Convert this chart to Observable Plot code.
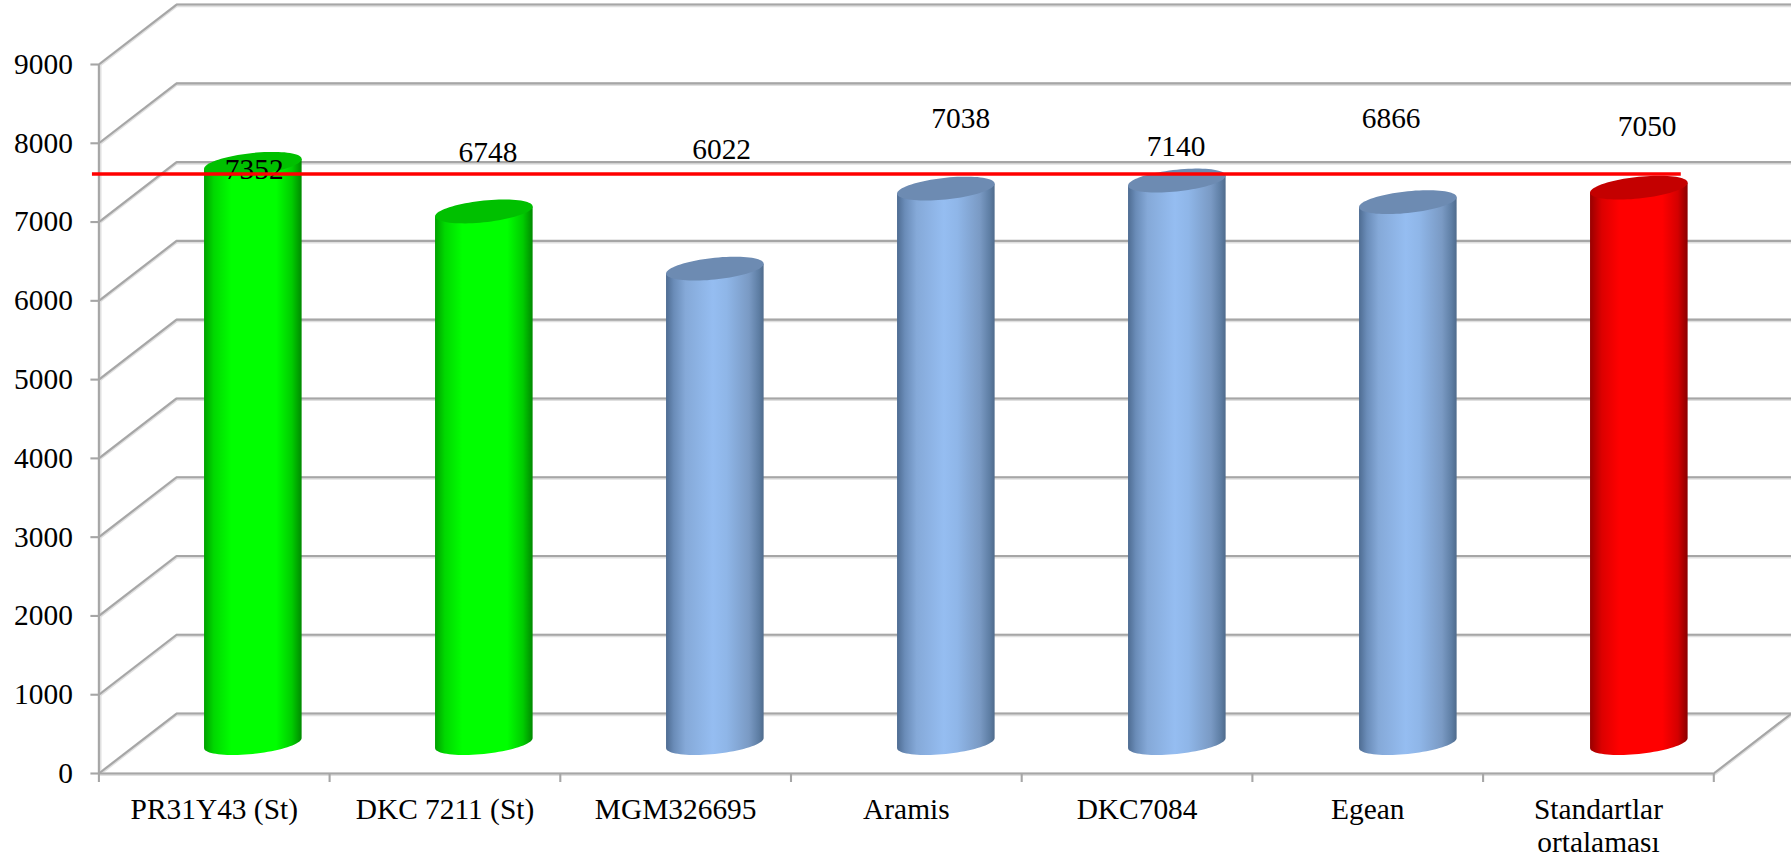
<!DOCTYPE html>
<html>
<head>
<meta charset="utf-8">
<style>html,body{margin:0;padding:0;background:#fff}svg{display:block}</style>
<script src="https://cdn.jsdelivr.net/npm/d3@7"></script>
<script src="https://cdn.jsdelivr.net/npm/@observablehq/plot@0.6"></script>
</head>
<body>
<div id="chart"></div>
<script>
// ---- data ----
const categories = ["PR31Y43 (St)", "DKC 7211 (St)", "MGM326695", "Aramis", "DKC7084", "Egean", "Standartlar\nortalaması"];
const values = [7352, 6748, 6022, 7038, 7140, 6866, 7050];
const kinds = ["standard", "standard", "entry", "entry", "entry", "entry", "mean"];
const yTicks = [0, 1000, 2000, 3000, 4000, 5000, 6000, 7000, 8000, 9000];
const referenceLevel = 7610;

// ---- layout ----
const font = "Liberation Serif";
const depthX = 0.3368, depthY = 761;     // pseudo-3D depth, in scale units
const halfWidth = 0.2115;                // cylinder half width, x units
const barStep = 1.0013;                  // cylinders are spaced a touch wider than the ticks
const tilt = 63, squash = 138;           // ellipse shear / half height, y units
const labelNudge = [[40,-25],[43,-89],[46,-149.5],[54.4,-100],[39,-64.5],[23.4,-114],[48.7,-92]];
const gridColor = "#a6a6a6", haloColor = "#e0e0e0";
const capColors = {standard: "#00c000", entry: "#6d8bb2", mean: "#c40000"};

const rows = categories.map((name, i) => ({name, i, value: values[i], kind: kinds[i]}));
const backLevels = yTicks.map(v => ({v, y: v + depthY}));

const steps = d3.range(0, 41).map(k => -Math.cos(Math.PI * k / 40));
const outline = rows.flatMap(r => steps.map(u => {
  const cx = r.i * barStep + 0.5 + depthX / 2 + 0.001, base = depthY / 2, top = base + r.value;
  const arc = squash * Math.sqrt(Math.max(0, 1 - u * u)), lean = tilt * u;
  return {kind: r.kind, name: r.name, x: cx + u * halfWidth,
    bodyLow: base + lean - arc, bodyHigh: top + lean,
    capLow: top + lean - arc, capHigh: top + lean + arc};
}));

function gradients() {
  const defs = d3.create("svg:defs");
  const specs = {
    standard: [[0,"#00a000"],[0.1,"#00d800"],[0.28,"#00ff00"],[0.74,"#00ff00"],[0.9,"#00cc00"],[1,"#008a00"]],
    entry: [[0,"#4e6c92"],[0.08,"#6a8cb8"],[0.2,"#85a9d8"],[0.48,"#95bdf1"],[0.62,"#8fb6e8"],[0.85,"#7a9ac4"],[0.95,"#5e7ea4"],[1,"#4f6b8c"]],
    mean: [[0,"#980000"],[0.12,"#dc0000"],[0.3,"#ff0000"],[0.74,"#ff0000"],[0.9,"#d40000"],[1,"#8a0000"]]
  };
  for (const [id, stops] of Object.entries(specs)) {
    const g = defs.append("linearGradient").attr("id", "cyl-" + id)
      .attr("x1", 0).attr("x2", 1).attr("y1", 0).attr("y2", 0);
    for (const [o, c] of stops) g.append("stop").attr("offset", o).attr("stop-color", c);
  }
  return defs.node();
}

const gridMarks = (stroke, strokeWidth, dy) => [
  Plot.ruleY(backLevels, {y: "y", x1: depthX, x2: 7 + depthX, stroke, strokeWidth, dy}),
  Plot.link(yTicks, {x1: 0, y1: d => d, x2: depthX, y2: d => d + depthY, stroke, strokeWidth, dy}),
  Plot.link([0], {x1: 7, y1: 0, x2: 7 + depthX, y2: depthY, stroke, strokeWidth, dy}),
  Plot.ruleY([0], {x1: 0, x2: 7, stroke, strokeWidth, dy}),
  Plot.ruleX([0], {y1: 0, y2: 9000, stroke, strokeWidth, dx: dy})
];

const chart = Plot.plot({
  width: 1791, height: 860,
  marginLeft: 98.4, marginRight: 77.7, marginTop: 64, marginBottom: 87,
  style: {background: "#fff", fontFamily: font, overflow: "visible"},
  x: {type: "linear", domain: [0, 7]},
  y: {type: "linear", domain: [0, 9000]},
  marks: [
    gradients,
    ...gridMarks(haloColor, 3.6, 0.8),
    ...gridMarks(gridColor, 2.1, 0),
    ...["standard", "entry", "mean"].flatMap(kind => {
      const pts = outline.filter(d => d.kind === kind);
      return [
        Plot.areaY(pts, {x: "x", y1: "bodyLow", y2: "bodyHigh", z: "name", fill: `url(#cyl-${kind})`}),
        Plot.areaY(pts, {x: "x", y1: "capLow", y2: "capHigh", z: "name", fill: capColors[kind]})
      ];
    }),
    Plot.axisY({anchor: "left", ticks: yTicks, tickSize: 8, tickPadding: 18, stroke: gridColor, strokeWidth: 2.1,
      fill: "#000", fontFamily: font, fontSize: 29.4, label: null, tickFormat: d => String(d)}),
    Plot.axisX({anchor: "bottom", ticks: d3.range(0, 8), tickSize: 9, stroke: gridColor, strokeWidth: 2.1,
      tickFormat: () => "", label: null}),
    Plot.axisX({anchor: "bottom", ticks: rows.map(r => r.i + 0.5), tickSize: 0, tickPadding: 21, fill: "#000",
      fontFamily: font, fontSize: 29.4, lineHeight: 1.15, lineAnchor: "top", label: null,
      tickFormat: d => categories[Math.floor(d)]}),
    ...rows.map((r, i) => Plot.text([r], {x: d => d.i + 0.5, y: "value", text: d => String(d.value),
      dx: labelNudge[i][0], dy: labelNudge[i][1], fill: "#000", fontFamily: font, fontSize: 29.4})),
    Plot.ruleY([referenceLevel], {x1: -0.028, x2: 6.859, stroke: "#ff0000", strokeWidth: 3.6})
  ]
});
document.getElementById("chart").appendChild(chart);
</script>
</body>
</html>
